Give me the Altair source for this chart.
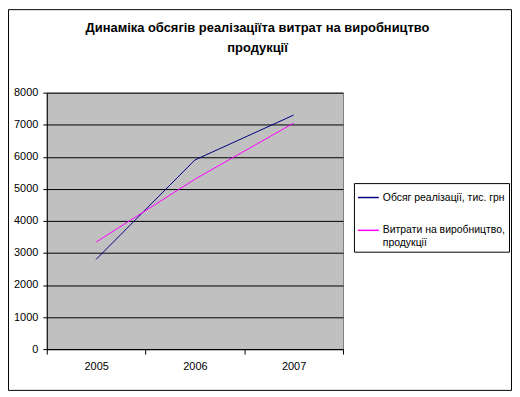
import altair as alt
import pandas as pd

years = ["2005", "2006", "2007"]
sales = [2800, 5900, 7300]
costs = [3340, 5300, 7050]
series = ["Обсяг реалізації, тис. грн", "Витрати на виробництво, продукції"]
colors = ["#000080", "#FF00FF"]
title_lines = ["Динаміка обсягів реалізаціїта витрат на виробництво", "продукції"]
y_ticks = [0, 1000, 2000, 3000, 4000, 5000, 6000, 7000, 8000]

df = pd.DataFrame({
    "year": years * 2,
    "value": sales + costs,
    "series": [series[0]] * 3 + [series[1]] * 3,
})

FONT = "Liberation Sans"

x = alt.X(
    "year:O",
    scale=alt.Scale(type="band", paddingInner=0, paddingOuter=0),
    axis=alt.Axis(
        title=None, labelAngle=0, tickBand="extent", tickSize=5,
        tickColor="black", domainColor="black", labelPadding=6,
        labelFontSize=11, labelColor="black", labelFont=FONT,
    ),
)
y = alt.Y(
    "value:Q",
    scale=alt.Scale(domain=[0, 8000], nice=False),
    axis=alt.Axis(
        title=None, values=y_ticks, format="d", grid=True, gridColor="black",
        gridOpacity=1, tickSize=4, tickColor="black", domainColor="black",
        labelPadding=5, labelFontSize=11, labelColor="black", labelFont=FONT,
    ),
)

lines = alt.Chart(df).mark_line(strokeWidth=1, clip=False).encode(
    x=x,
    y=y,
    color=alt.Color(
        "series:N",
        scale=alt.Scale(domain=series, range=colors),
        legend=alt.Legend(
            title=None, orient="none", legendX=309, legendY=91,
            symbolType="stroke", symbolSize=441, symbolStrokeWidth=1.5,
            labelFontSize=10.5, labelFont=FONT, labelColor="black",
            labelLimit=250, labelOffset=3,
            strokeColor="black", fillColor="white", padding=3,
            rowPadding=16,
            labelExpr="datum.label == 'Витрати на виробництво, продукції' ? ['Витрати на виробництво,', 'продукції'] : datum.label",
        ),
    ),
)

frame = alt.Chart(pd.DataFrame({"a": [0]})).mark_rect(
    fillOpacity=0, stroke="black", strokeWidth=1, clip=False
).encode(
    x=alt.value(-38.5), x2=alt.value(467.5),
    y=alt.value(-83.5), y2=alt.value(299.5),
)

chart = alt.layer(frame, lines).properties(
    width=298,
    height=258,
    background="white",
    autosize=alt.AutoSizeParams(type="none"),
    padding={"left": 39, "top": 84, "right": 170, "bottom": 45},
    title=alt.TitleParams(
        text=title_lines, fontSize=13, fontWeight="bold", font=FONT,
        color="black", lineHeight=20, anchor="middle", dx=63, offset=0, dy=46,
    ),
).configure_view(
    stroke="#808080", fill="#C0C0C0"
)

chart.save("out.html", embed_options={"renderer": "svg", "actions": False})
